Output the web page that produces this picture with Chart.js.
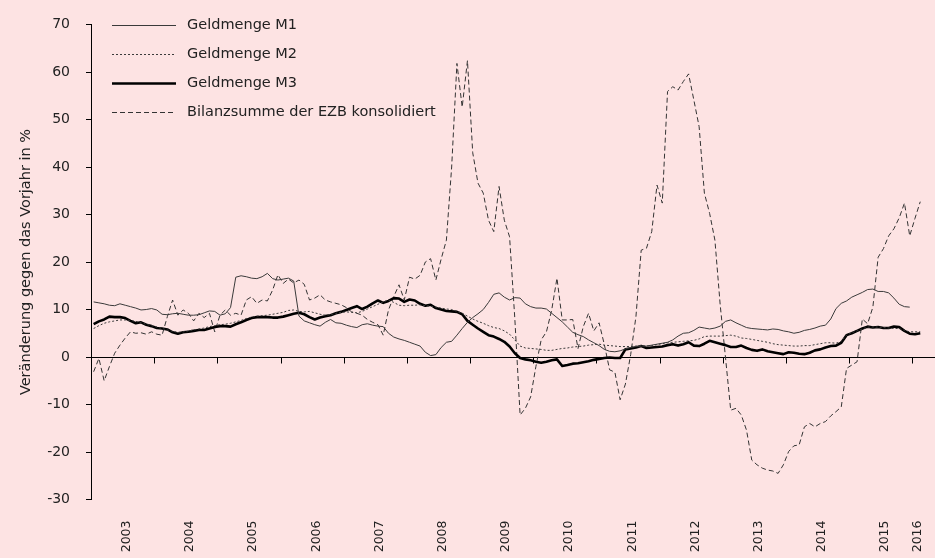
<!DOCTYPE html>
<html>
<head>
<meta charset="utf-8">
<script src="https://cdn.jsdelivr.net/npm/chart.js@4.4.0/dist/chart.umd.min.js"></script>
<style>
  html, body { margin: 0; padding: 0; background: #fde3e3; }
  #wrap { width: 935px; height: 558px; }
  canvas { display: block; background: #fde3e3; }
</style>
</head>
<body>
<div id="wrap"><canvas id="chart" width="935" height="558"></canvas></div>
<script>
// Monatswerte ab Jan 2003, Veränderung gegen Vorjahr in %
const yearLabels = ["2003", "2004", "2005", "2006", "2007", "2008", "2009",
                    "2010", "2011", "2012", "2013", "2014", "2015", "2016"];

const seriesNames = ["Geldmenge M1", "Geldmenge M2", "Geldmenge M3",
                     "Bilanzsumme der EZB konsolidiert"];

const m1 = [
  11.6, 11.4, 11.2, 10.9, 10.8, 11.2, 10.9, 10.6, 10.3, 9.9,
  10.0, 10.2, 9.9, 9.0, 8.9, 9.1, 9.2, 9.0, 8.8, 8.8,
  8.9, 9.3, 9.7, 9.6, 8.8, 9.1, 10.4, 16.8, 17.1, 16.9,
  16.6, 16.5, 16.9, 17.6, 16.5, 16.2, 16.4, 16.6, 16.0, 8.6,
  7.6, 7.2, 6.8, 6.5, 7.3, 7.9, 7.2, 7.1, 6.7, 6.4,
  6.2, 6.8, 7.0, 6.7, 6.5, 6.4, 5.0, 4.2, 3.8, 3.5,
  3.1, 2.7, 2.3, 1.0, 0.3, 0.5, 2.0, 3.1, 3.3, 4.6,
  6.0, 7.3, 8.3, 9.1, 10.0, 11.5, 13.2, 13.5, 12.6, 12.0,
  12.5, 12.4, 11.2, 10.6, 10.3, 10.3, 10.1, 9.2, 8.3, 7.4,
  6.3, 5.2, 4.7, 4.3, 3.6, 3.0, 2.4, 1.6, 1.2, 1.1,
  1.3, 1.7, 2.0, 2.2, 2.3, 2.3, 2.5, 2.7, 2.9, 3.1,
  3.6, 4.4, 5.0, 5.1, 5.6, 6.3, 6.1, 5.9, 6.1, 6.5,
  7.5, 7.8, 7.2, 6.7, 6.2, 6.0, 5.9, 5.8, 5.7, 5.9,
  5.8, 5.5, 5.3, 5.0, 5.2, 5.6, 5.8, 6.1, 6.5, 6.7,
  8.0, 10.2, 11.3, 11.8, 12.6, 13.1, 13.6, 14.2, 14.3, 13.8,
  13.8, 13.5, 12.4, 11.1, 10.6, 10.5
];

const m2 = [
  6.0, 6.6, 7.1, 7.4, 7.6, 7.8, 7.8, 7.7, 7.5, 7.2,
  6.9, 6.6, 6.3, 6.0, 5.7, 5.4, 5.2, 5.3, 5.5, 5.7,
  5.9, 6.1, 6.4, 6.6, 6.8, 6.9, 7.1, 7.4, 7.7, 8.1,
  8.4, 8.6, 8.7, 8.8, 9.0, 9.2, 9.4, 9.8, 9.9, 9.6,
  9.5, 9.6, 9.3, 9.0, 8.8, 8.9, 9.2, 9.4, 9.5, 9.4,
  9.3, 9.6, 10.1, 10.6, 11.1, 11.6, 12.0, 11.5, 10.9, 10.8,
  10.9, 10.9, 11.0, 10.8, 10.7, 10.5, 10.3, 10.1, 10.0, 9.6,
  9.2, 8.6, 8.0, 7.5, 7.1, 6.6, 6.2, 6.0, 5.5, 4.8,
  3.6, 2.3, 1.9, 1.8, 1.7, 1.6, 1.4, 1.4, 1.6, 1.8,
  1.9, 2.1, 2.2, 2.3, 2.5, 2.6, 2.7, 2.5, 2.4, 2.3,
  2.2, 2.2, 2.2, 2.3, 2.4, 2.3, 2.4, 2.6, 2.8, 3.0,
  3.1, 3.2, 3.3, 3.4, 3.5, 3.8, 4.3, 4.4, 4.4, 4.4,
  4.5, 4.6, 4.4, 4.0, 3.9, 3.7, 3.5, 3.3, 3.1, 2.8,
  2.6, 2.5, 2.4, 2.3, 2.3, 2.4, 2.4, 2.6, 2.8, 3.0,
  3.0, 2.9, 3.3, 4.6, 5.1, 5.5, 5.9, 6.3, 6.3, 6.3,
  6.2, 6.1, 6.0, 6.0, 5.6, 5.3, 5.3, 5.3
];

const m3 = [
  6.9, 7.5, 7.9, 8.5, 8.4, 8.4, 8.2, 7.6, 7.1, 7.3,
  6.8, 6.5, 6.1, 6.0, 5.8, 5.2, 4.9, 5.2, 5.3, 5.5,
  5.7, 5.7, 6.0, 6.3, 6.5, 6.5, 6.4, 6.9, 7.3, 7.8,
  8.2, 8.4, 8.4, 8.4, 8.3, 8.3, 8.5, 8.8, 9.1, 9.3,
  9.0, 8.4, 7.9, 8.3, 8.6, 8.8, 9.2, 9.5, 9.9, 10.3,
  10.7, 10.1, 10.6, 11.3, 11.9, 11.4, 11.8, 12.4, 12.3, 11.6,
  12.1, 11.9, 11.2, 10.8, 11.0, 10.3, 10.0, 9.7, 9.6, 9.5,
  9.0, 7.6, 6.8, 6.0, 5.3, 4.6, 4.3, 3.8, 3.2, 2.2,
  0.8, -0.2, -0.5, -0.7, -1.0, -1.2, -1.0, -0.7, -0.5, -1.9,
  -1.7, -1.4, -1.3, -1.1, -0.9, -0.6, -0.4, -0.2, -0.1, -0.2,
  -0.2, 1.6, 1.8, 2.0, 2.3, 1.9, 2.0, 2.1, 2.2, 2.5,
  2.7, 2.4, 2.7, 3.1, 2.4, 2.3, 2.8, 3.4, 3.1, 2.8,
  2.5, 2.1, 2.1, 2.4, 1.9, 1.5, 1.3, 1.6, 1.2, 1.0,
  0.8, 0.6, 1.0, 0.9, 0.7, 0.6, 0.9, 1.4, 1.6, 2.0,
  2.3, 2.4, 3.0, 4.6, 5.0, 5.5, 6.0, 6.4, 6.2, 6.3,
  6.1, 6.1, 6.4, 6.3, 5.5, 4.9, 4.8, 5.0
];

const ezb = [
  -3.1, -0.3, -5.0, -2.0, 0.8, 2.5, 4.0, 5.3, 5.0, 5.1,
  4.8, 5.3, 4.8, 4.6, 8.5, 12.0, 8.8, 9.9, 9.2, 7.6,
  9.2, 8.3, 9.2, 5.3, 8.8, 9.9, 8.8, 9.2, 8.8, 12.0,
  12.7, 11.3, 12.0, 11.8, 14.1, 17.3, 15.5, 16.4, 15.6, 16.2,
  15.3, 12.0, 12.4, 13.1, 12.0, 11.6, 11.3, 11.0, 10.4, 9.5,
  9.2, 8.8, 7.9, 7.3, 6.8, 4.6, 9.9, 12.7, 15.2, 12.0,
  16.8, 16.4, 17.2, 20.0, 20.7, 16.2, 20.6, 24.6, 40.0, 61.8,
  52.6, 62.4, 43.0, 36.6, 34.5, 28.8, 26.4, 35.9, 28.8, 25.3,
  8.0, -12.2, -10.8, -8.4, -2.0, 3.6, 5.3, 9.9, 16.6, 7.8,
  7.8, 7.9, 1.8, 6.4, 9.2, 5.5, 7.2, 2.6, -2.7, -3.2,
  -9.0, -5.7, 0.5, 8.5, 22.5, 22.9, 26.4, 36.2, 32.4, 55.9,
  56.9, 56.2, 58.0, 59.6, 54.1, 48.5, 34.5, 30.2, 24.6, 11.0,
  0.0, -11.2, -10.8, -12.2, -15.4, -21.7, -22.7, -23.4, -23.8, -24.0,
  -24.5, -22.7, -19.9, -18.7, -18.5, -14.7, -14.0, -14.7, -14.0, -13.6,
  -12.4, -11.5, -10.5, -2.4, -1.7, -1.0, 8.0, 7.0, 10.5, 21.0,
  22.8, 25.5, 27.0, 29.3, 32.4, 25.5, 29.2, 32.7
];

const FONT = "'DejaVu Sans', sans-serif";
const INK = "#222";

const toPoints = (arr) => arr.map((v, i) => ({ x: i, y: v }));
const nMonths = Math.max(m1.length, m2.length, m3.length, ezb.length);

// Jahresbeschriftung etwa in der Jahresmitte, das angebrochene Jahr mittig über seine Monate
const yearTickValues = yearLabels.map((_, k) => {
  const first = 12 * k;
  const last = Math.min(12 * k + 11, nMonths - 1);
  return last - first === 11 ? 12 * k + 6.3 : (first + last) / 2;
});

// Nulllinie mit Jahresstrichen (wie die Excel-Achse)
const zeroAxis = {
  id: "zeroAxis",
  beforeDatasetsDraw(chart) {
    const { ctx, chartArea, scales } = chart;
    const y0 = Math.round(scales.y.getPixelForValue(0)) + 0.5;
    ctx.save();
    ctx.strokeStyle = "#000";
    ctx.lineWidth = 1;
    ctx.beginPath();
    ctx.moveTo(chartArea.left, y0);
    ctx.lineTo(chartArea.right, y0);
    for (let k = 1; k < yearLabels.length; k++) {
      const px = Math.round(scales.x.getPixelForValue(12 * k - 0.5)) + 0.5;
      ctx.moveTo(px, y0);
      ctx.lineTo(px, y0 + 6);
    }
    ctx.stroke();
    ctx.restore();
  },
};

// Legende oben links im Diagramm
const insideLegend = {
  id: "insideLegend",
  afterDraw(chart, args, opts) {
    const { ctx, chartArea } = chart;
    chart.data.datasets.forEach((ds, i) => {
      const yy = Math.round(chartArea.top + i * opts.rowGap) + 0.5;
      ctx.save();
      ctx.strokeStyle = ds.borderColor;
      ctx.lineWidth = ds.borderWidth;
      ctx.setLineDash(ds.borderDash || []);
      ctx.beginPath();
      ctx.moveTo(chartArea.left + opts.lineFrom, yy);
      ctx.lineTo(chartArea.left + opts.lineTo, yy);
      ctx.stroke();
      ctx.setLineDash([]);
      ctx.fillStyle = INK;
      ctx.font = opts.font;
      ctx.textBaseline = "middle";
      ctx.fillText(ds.label, chartArea.left + opts.textX, yy);
      ctx.restore();
    });
  },
};

new Chart(document.getElementById("chart"), {
  type: "line",
  data: {
    datasets: [
      { label: seriesNames[0], data: toPoints(m1), borderColor: "#3a3a3a", borderWidth: 1 },
      { label: seriesNames[1], data: toPoints(m2), borderColor: "#3a3a3a", borderWidth: 1, borderDash: [2, 2] },
      { label: seriesNames[2], data: toPoints(m3), borderColor: "#000", borderWidth: 2.6 },
      { label: seriesNames[3], data: toPoints(ezb), borderColor: "#333", borderWidth: 1, borderDash: [5, 3] },
    ],
  },
  options: {
    responsive: false,
    animation: false,
    devicePixelRatio: 1,
    layout: { padding: { top: 24.5, right: 0, left: 0, bottom: 0 } },
    elements: { point: { radius: 0 }, line: { tension: 0, borderJoinStyle: "round" } },
    plugins: {
      legend: { display: false },
      tooltip: { enabled: false },
      insideLegend: { rowGap: 29, lineFrom: 21, lineTo: 85, textX: 96, font: "14.5px " + FONT },
    },
    scales: {
      x: {
        type: "linear",
        min: -0.5,
        max: 159.8,
        grid: { display: false, drawTicks: false },
        border: { display: false },
        afterBuildTicks: (scale) => {
          scale.ticks = yearTickValues.map((v) => ({ value: v }));
        },
        afterFit: (scale) => {
          scale.height = 58.5;
          scale.paddingLeft = 0;
          scale.paddingRight = 0;
        },
        ticks: {
          autoSkip: false,
          minRotation: 90,
          maxRotation: 90,
          padding: 21,
          color: INK,
          font: { family: FONT, size: 12.5 },
          callback: (value, index) => yearLabels[index],
        },
      },
      y: {
        min: -30,
        max: 70,
        afterFit: (scale) => { scale.width = 91; },
        grid: { drawOnChartArea: false, drawTicks: true, tickLength: 5, color: "#000" },
        border: { display: true, color: "#000", width: 1 },
        ticks: {
          stepSize: 10,
          padding: 16,
          color: INK,
          font: { family: FONT, size: 14 },
          callback: (v) => String(v),
        },
        title: {
          display: true,
          text: "Veränderung gegen das Vorjahr in %",
          color: INK,
          font: { family: FONT, size: 14.5 },
          padding: { top: 18, bottom: 0 },
        },
      },
    },
  },
  plugins: [zeroAxis, insideLegend],
});
</script>
</body>
</html>
